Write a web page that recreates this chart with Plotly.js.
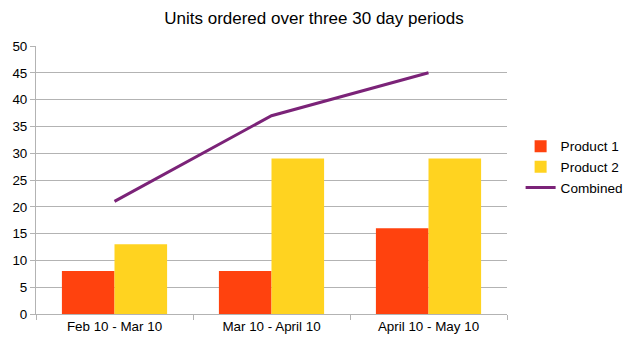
<!DOCTYPE html>
<html>
<head>
<meta charset="utf-8">
<script src="https://cdn.plot.ly/plotly-3.0.1.min.js"></script>
<style>html,body{margin:0;padding:0;background:#fff;}#chart{width:628px;height:356px;}</style>
</head>
<body>
<div id="chart"></div>
<script>
const categories = ["Feb 10 - Mar 10", "Mar 10 - April 10", "April 10 - May 10"];
const product1 = [8, 8, 16];
const product2 = [13, 29, 29];
const combined = [21, 37, 45];
const yTicks = [0, 5, 10, 15, 20, 25, 30, 35, 40, 45, 50];

const traces = [
  {type: "bar", name: "Product 1", x: categories, y: product1, marker: {color: "#ff420e"}},
  {type: "bar", name: "Product 2", x: categories, y: product2, marker: {color: "#ffd320"}},
  {type: "scatter", mode: "lines", name: "Combined", x: categories, y: combined,
   line: {color: "#7b2378", width: 3}}
];

const layout = {
  width: 628, height: 356,
  margin: {l: 36, r: 121, t: 46, b: 42},
  paper_bgcolor: "#fff", plot_bgcolor: "#fff",
  font: {family: "Liberation Sans, Arial, sans-serif", size: 13, color: "#000"},
  title: {text: "Units ordered over three 30 day periods", font: {size: 17, color: "#000"},
          x: 0.5, xanchor: "center", y: 0.95, yanchor: "middle"},
  barmode: "group", bargap: 0.33, bargroupgap: 0,
  xaxis: {type: "category", showline: true, linecolor: "#b3b3b3", linewidth: 1,
          ticks: "outside", tickson: "boundaries", ticklen: 5, tickcolor: "#b3b3b3",
          showgrid: false, tickfont: {size: 13.4}, fixedrange: true, automargin: false},
  yaxis: {range: [0, 50], tickvals: yTicks, showline: true, linecolor: "#b3b3b3",
          ticks: "outside", ticklen: 5, tickcolor: "#b3b3b3",
          showgrid: true, gridcolor: "#b3b3b3", gridwidth: 1, zeroline: false,
          tickfont: {size: 13.4}, fixedrange: true, automargin: false},
  legend: {xref: "container", yref: "container", x: 0.829, xanchor: "left",
           y: 0.53, yanchor: "middle", font: {size: 13.6},
           bgcolor: "rgba(0,0,0,0)", tracegroupgap: 0, traceorder: "normal"},
  showlegend: true
};

Plotly.newPlot("chart", traces, layout, {displayModeBar: false, staticPlot: true});
</script>
</body>
</html>
